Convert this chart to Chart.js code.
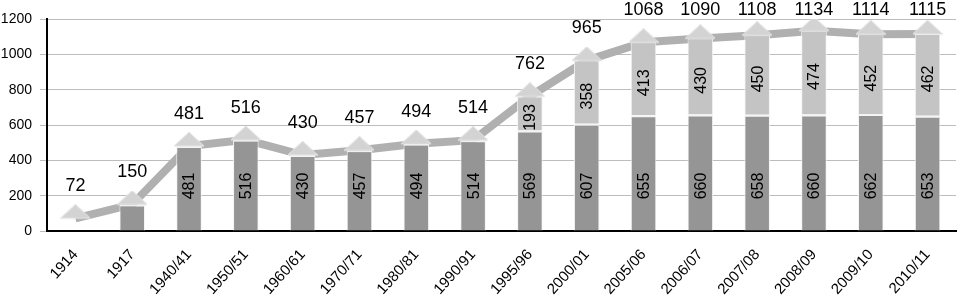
<!DOCTYPE html>
<html>
<head>
<meta charset="utf-8">
<script src="https://cdn.jsdelivr.net/npm/chart.js@4/dist/chart.umd.min.js"></script>
<style>
    body { margin: 0; background: #fff; }
    #wrap { width: 972px; height: 296px; position: relative; }
</style>
</head>
<body>
<div id="wrap"><canvas id="chart"></canvas></div>
<script>
// Data
const years = ['1914', '1917', '1940/41', '1950/51', '1960/61', '1970/71', '1980/81', '1990/91',
    '1995/96', '2000/01', '2005/06', '2006/07', '2007/08', '2008/09', '2009/10', '2010/11'];
const lowerPart = [null, 150, 481, 516, 430, 457, 494, 514, 569, 607, 655, 660, 658, 660, 662, 653];
const upperPart = [null, null, null, null, null, null, null, null, 193, 358, 413, 430, 450, 474, 452, 462];
const totals = [72, 150, 481, 516, 430, 457, 494, 514, 762, 965, 1068, 1090, 1108, 1134, 1114, 1115];
const yTicks = [0, 200, 400, 600, 800, 1000, 1200];

const FONT = 'Arial, "Liberation Sans", sans-serif';

// triangle marker, drawn in the upper half so its base sits on the point
function makeTriangle() {
    const c = document.createElement('canvas');
    c.width = 30;
    c.height = 28;
    const g = c.getContext('2d');
    g.beginPath();
    g.moveTo(0, 14);
    g.lineTo(15, 0);
    g.lineTo(30, 14);
    g.closePath();
    g.fillStyle = '#d3d3d3';
    g.fill();
    g.strokeStyle = '#e6e6e6';
    g.lineWidth = 1;
    g.stroke();
    return c;
}
const triangle = makeTriangle();

// value labels: totals above the line, part values inside the bars
const valueLabels = {
    id: 'valueLabels',
    afterDatasetsDraw(chart) {
        const ctx = chart.ctx;
        const yScale = chart.scales.y;
        const lowMeta = chart.getDatasetMeta(0);
        const upMeta = chart.getDatasetMeta(1);
        const lineMeta = chart.getDatasetMeta(3);
        ctx.save();
        ctx.fillStyle = '#000';
        ctx.textAlign = 'center';
        ctx.textBaseline = 'middle';

        ctx.font = '18px ' + FONT;
        lineMeta.data.forEach((pt, i) => {
            ctx.fillText(String(totals[i]), pt.x, Math.max(pt.y - 32, 10));
        });

        ctx.font = '16px ' + FONT;
        lowMeta.data.forEach((bar, i) => {
            const v = lowerPart[i];
            if (v == null || yScale.bottom - bar.y < 60) return;
            ctx.save();
            ctx.translate(bar.x, yScale.bottom - 45);
            ctx.rotate(-Math.PI / 2);
            ctx.fillText(String(v), 0, 1);
            ctx.restore();
        });
        upMeta.data.forEach((bar, i) => {
            const v = upperPart[i];
            if (v == null) return;
            ctx.save();
            ctx.translate(bar.x, (bar.y + bar.base) / 2 + 4);
            ctx.rotate(-Math.PI / 2);
            ctx.fillText(String(v), 0, 1);
            ctx.restore();
        });
        ctx.restore();
    }
};

new Chart(document.getElementById('chart'), {
    type: 'bar',
    data: {
        labels: years,
        datasets: [
            {
                data: lowerPart,
                backgroundColor: '#959595',
                borderColor: '#f4f4f4',
                borderWidth: { top: 2, left: 1, right: 1 },
                borderSkipped: 'bottom',
                stack: 'parts',
                order: 2,
                barPercentage: 0.9,
                categoryPercentage: 0.5
            },
            {
                data: upperPart,
                backgroundColor: '#c4c4c4',
                borderColor: '#f4f4f4',
                borderWidth: { top: 1, left: 1, right: 1 },
                borderSkipped: 'bottom',
                stack: 'parts',
                order: 2,
                barPercentage: 0.9,
                categoryPercentage: 0.5
            },
            {
                type: 'line',
                data: totals,
                stack: 'totalLine',
                borderColor: '#b0b0b0',
                borderWidth: 8,
                pointRadius: 0,
                tension: 0,
                order: 3
            },
            {
                type: 'line',
                data: totals,
                stack: 'totalMarks',
                showLine: false,
                pointStyle: triangle,
                pointRadius: 15,
                order: 1
            }
        ]
    },
    options: {
        responsive: true,
        maintainAspectRatio: false,
        animation: false,
        layout: { padding: { top: 19, right: 3, left: 0, bottom: 0 } },
        plugins: {
            legend: { display: false },
            tooltip: { enabled: false }
        },
        scales: {
            x: {
                stacked: true,
                grid: { display: false, drawTicks: false },
                border: { display: true, color: '#000', width: 2 },
                ticks: {
                    color: '#000',
                    font: { family: FONT, size: 15 },
                    minRotation: 48,
                    maxRotation: 48,
                    autoSkip: false,
                    padding: 15
                },
                afterFit(scale) { scale.height = 65; }
            },
            y: {
                stacked: true,
                min: 0,
                max: 1200,
                afterBuildTicks(scale) { scale.ticks = yTicks.map(v => ({ value: v })); },
                grid: { color: '#bdbdbd', lineWidth: 1, tickLength: 7 },
                border: { display: true, color: '#000', width: 2 },
                ticks: {
                    color: '#000',
                    font: { family: FONT, size: 14 },
                    padding: 8,
                    callback: v => String(v)
                },
                afterFit(scale) { scale.width = 47; }
            }
        }
    },
    plugins: [valueLabels]
});
</script>
</body>
</html>
